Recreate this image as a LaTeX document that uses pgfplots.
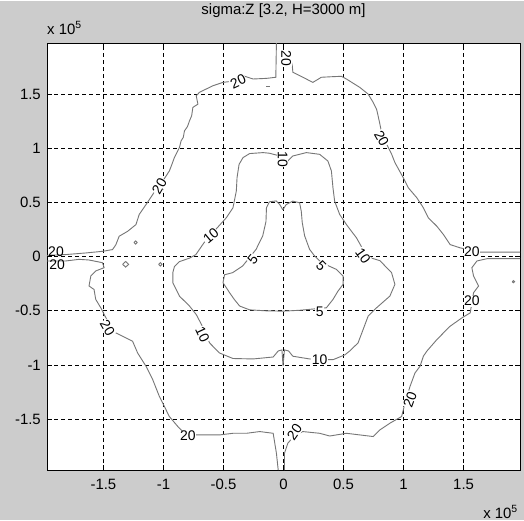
\documentclass[border=0pt]{standalone}
\usepackage{pgfplots}
\pgfplotsset{compat=1.18}
\usepackage{fontspec}
\setmainfont{Liberation Sans}
\definecolor{figbg}{RGB}{204,204,204}
\definecolor{cline}{RGB}{118,118,118}
\newcommand{\fs}{\fontsize{15}{17}\selectfont}
\newcommand{\fl}{\fontsize{14}{16}\selectfont}
\tikzset{lbl/.style={fill=white, inner sep=0.5bp, font=\fl, text=black},
  cl/.style={draw=cline, line width=0.9bp, mark=none, solid}}
\begin{document}
\begin{tikzpicture}[x=1bp,y=1bp]
\fill[figbg] (0,0) rectangle (524,-519);
\begin{axis}[
  at={(47bp,-469bp)}, anchor=south west,
  scale only axis, width=473bp, height=427bp,
  xmin=-1.97, xmax=1.97, ymin=-1.97, ymax=1.97,
  axis background/.style={fill=white},
  xtick={-1.5,-1,-0.5,0,0.5,1,1.5},
  ytick={-1.5,-1,-0.5,0,0.5,1,1.5},
  xticklabels={-1.5,-1,-0.5,0,0.5,1,1.5},
  yticklabels={-1.5,-1,-0.5,0,0.5,1,1.5},
  grid=major,
  major grid style={black, dash pattern=on 4bp off 3bp, line width=0.8bp},
  tick align=inside, major tick length=5bp,
  tick style={black, line width=0.8bp},
  axis line style={black, line width=1bp},
  ticklabel style={font=\fs},
  xticklabel style={inner sep=0pt, yshift=-9bp},
  yticklabel style={inner sep=0pt, xshift=-6bp},
  title={sigma:Z [3.2, H=3000 m]},
  title style={font=\fs, at={(0.5,1)}, anchor=base, yshift=23bp},
  clip=false,
]
% contour 20 : four open pieces
\addplot[cl] coordinates {(-0.059,1.97) (-0.064,1.655) (-0.14,1.645) (-0.253,1.639) (-0.337,1.669) (-0.393,1.623) (-0.504,1.608) (-0.588,1.577) (-0.700,1.516) (-0.727,1.484) (-0.713,1.407) (-0.755,1.377) (-0.765,1.30) (-0.783,1.253) (-0.800,1.20) (-0.825,1.160) (-0.835,1.10) (-0.853,1.068) (-0.867,1.006) (-0.909,0.914) (-0.930,0.85) (-0.951,0.790) (-1.006,0.697) (-1.04,0.66) (-1.089,0.574) (-1.145,0.481) (-1.202,0.389) (-1.229,0.296) (-1.298,0.234) (-1.369,0.188) (-1.396,0.111) (-1.424,0.065) (-1.508,0.049) (-1.647,0.034) (-1.814,0.019) (-1.97,0.012)};
\addplot[cl] coordinates {(0.065,1.80) (0.073,1.762) (0.078,1.701) (0.161,1.655) (0.245,1.608) (0.315,1.655) (0.40,1.66) (0.482,1.664) (0.524,1.639) (0.635,1.562) (0.705,1.5) (0.747,1.423) (0.775,1.361) (0.788,1.299) (0.803,1.222) (0.817,1.145) (0.859,1.037) (0.901,0.944) (0.928,0.868) (0.997,0.729) (1.039,0.636) (1.110,0.544) (1.165,0.451) (1.207,0.358) (1.277,0.281) (1.332,0.204) (1.388,0.111) (1.472,0.081) (1.639,0.042) (1.862,0.042) (1.97,0.042)};
\addplot[cl] coordinates {(-1.97,-0.040) (-1.814,-0.040) (-1.703,-0.025) (-1.620,-0.031) (-1.508,-0.056) (-1.494,-0.102) (-1.564,-0.132) (-1.605,-0.179) (-1.620,-0.271) (-1.578,-0.303) (-1.564,-0.395) (-1.522,-0.472) (-1.494,-0.534) (-1.455,-0.611) (-1.396,-0.704) (-1.313,-0.750) (-1.257,-0.781) (-1.215,-0.889) (-1.145,-1.012) (-1.089,-1.136) (-1.034,-1.290) (-0.992,-1.383) (-0.951,-1.475) (-0.880,-1.568) (-0.811,-1.645) (-0.671,-1.645) (-0.533,-1.645) (-0.421,-1.630) (-0.309,-1.630) (-0.198,-1.614) (-0.086,-1.630) (-0.059,-1.815) (-0.044,-1.97)};
\addplot[cl] coordinates {(0.008,-1.97) (0.008,-1.815) (0.036,-1.722) (0.092,-1.648) (0.161,-1.614) (0.301,-1.630) (0.385,-1.655) (0.524,-1.630) (0.635,-1.645) (0.747,-1.660) (0.803,-1.599) (0.886,-1.537) (0.984,-1.475) (1.012,-1.352) (1.054,-1.197) (1.095,-1.074) (1.137,-1.012) (1.165,-0.919) (1.193,-0.873) (1.277,-0.766) (1.332,-0.704) (1.388,-0.642) (1.486,-0.565) (1.555,-0.519) (1.583,-0.333) (1.625,-0.271) (1.583,-0.179) (1.569,-0.102) (1.611,-0.040) (1.695,-0.019) (1.862,-0.019) (1.97,-0.019)};
% small closed 20 contours
\addplot[cl] coordinates {(-1.34,-0.071) (-1.315,-0.045) (-1.29,-0.071) (-1.315,-0.097) (-1.34,-0.071)};
\addplot[cl] coordinates {(-1.04,-0.071) (-1.026,-0.055) (-1.012,-0.071) (-1.026,-0.087) (-1.04,-0.071)};
\addplot[cl] coordinates {(-1.245,0.130) (-1.232,0.145) (-1.219,0.130) (-1.232,0.115) (-1.245,0.130)};
\addplot[cl] coordinates {(1.905,-0.231) (1.915,-0.221) (1.925,-0.231) (1.915,-0.241) (1.905,-0.231)};
\addplot[cl] coordinates {(-0.145,1.567) (-0.11,1.567)};
% contour 10
\addplot[cl] coordinates {(0,0.870) (-0.031,0.929) (-0.117,0.954) (-0.170,0.960) (-0.282,0.951) (-0.337,0.914) (-0.370,0.852) (-0.387,0.729) (-0.393,0.605) (-0.421,0.451) (-0.477,0.358) (-0.563,0.253) (-0.661,0.130) (-0.730,0.019) (-0.783,-0.014) (-0.867,-0.046) (-0.909,-0.093) (-0.922,-0.148) (-0.922,-0.241) (-0.867,-0.364) (-0.783,-0.456) (-0.727,-0.534) (-0.661,-0.673) (-0.616,-0.796) (-0.533,-0.889) (-0.421,-0.940) (-0.253,-0.944) (-0.086,-0.926) (-0.044,-0.870) (-0.013,-0.861) (-0.004,-1.009) (0.008,-0.861) (0.042,-0.870) (0.078,-0.919) (0.217,-0.944) (0.412,-0.951) (0.510,-0.907) (0.552,-0.870) (0.621,-0.796) (0.663,-0.673) (0.705,-0.549) (0.775,-0.472) (0.886,-0.364) (0.928,-0.256) (0.900,-0.148) (0.803,-0.037) (0.719,-0.009) (0.663,0.065) (0.608,0.173) (0.524,0.296) (0.468,0.389) (0.426,0.512) (0.412,0.636) (0.399,0.790) (0.370,0.882) (0.301,0.944) (0.190,0.960) (0.078,0.929) (0.033,0.880) (0,0.870)};
% contour 5
\addplot[cl] coordinates {(-0.006,0.432) (-0.033,0.484) (-0.061,0.514) (-0.117,0.506) (-0.142,0.451) (-0.146,0.324) (-0.173,0.192) (-0.228,0.068) (-0.284,-0.009) (-0.340,-0.086) (-0.424,-0.148) (-0.491,-0.167) (-0.504,-0.241) (-0.449,-0.333) (-0.410,-0.395) (-0.365,-0.456) (-0.282,-0.491) (-0.145,-0.500) (-0.006,-0.503) (0.134,-0.495) (0.357,-0.472) (0.412,-0.395) (0.454,-0.318) (0.496,-0.256) (0.496,-0.179) (0.441,-0.118) (0.318,-0.056) (0.259,0.006) (0.217,0.068) (0.176,0.192) (0.156,0.315) (0.148,0.419) (0.134,0.497) (0.078,0.512) (0.023,0.481) (-0.006,0.432)};
% inline labels
\node[lbl, rotate=-90] at (axis cs:0.022,1.83) {20};
\node[lbl, rotate=25] at (axis cs:-0.379,1.615) {20};
\node[lbl, rotate=60] at (axis cs:-1.034,0.651) {20};
\node[lbl, fill=none] at (axis cs:-1.895,0.05) {20};
\node[lbl, fill=none] at (axis cs:-1.885,-0.075) {20};
\node[lbl, rotate=-60] at (axis cs:-1.466,-0.657) {20};
\node[lbl] at (axis cs:-0.797,-1.655) {20};
\node[lbl, rotate=55] at (axis cs:0.092,-1.62) {20};
\node[lbl, rotate=70] at (axis cs:1.054,-1.321) {20};
\node[lbl] at (axis cs:1.569,-0.41) {20};
\node[lbl] at (axis cs:1.569,0.05) {20};
\node[lbl, rotate=-60] at (axis cs:0.817,1.09) {20};
\node[lbl, rotate=-90] at (axis cs:-0.006,0.90) {10};
\node[lbl, rotate=40] at (axis cs:-0.605,0.19) {10};
\node[lbl, rotate=-55] at (axis cs:0.663,0.006) {10};
\node[lbl, rotate=-65] at (axis cs:-0.675,-0.72) {10};
\node[lbl] at (axis cs:0.301,-0.951) {10};
\node[lbl, rotate=50] at (axis cs:-0.257,-0.025) {5};
\node[lbl, rotate=-45] at (axis cs:0.315,-0.086) {5};
\node[lbl] at (axis cs:0.301,-0.512) {5};
% exponent labels
\node[anchor=base west, font=\fs, inner sep=0pt] at (rel axis cs:0,1) [yshift=9bp] {x 10\textsuperscript{5}};
\node[anchor=base east, font=\fs, inner sep=0pt] at (rel axis cs:1,0) [xshift=-2bp, yshift=-48bp] {x 10\textsuperscript{5}};
\end{axis}
\end{tikzpicture}
\end{document}
